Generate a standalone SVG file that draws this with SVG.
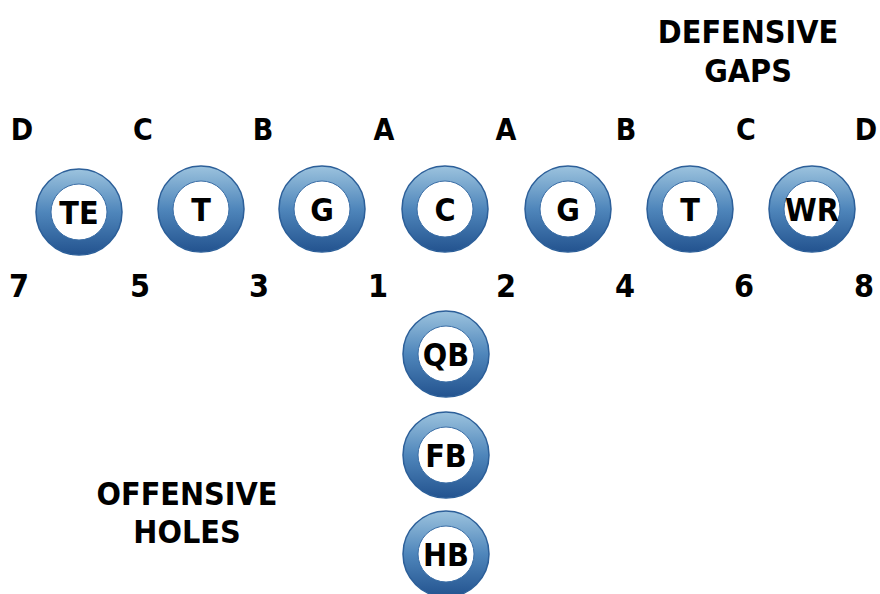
<svg xmlns="http://www.w3.org/2000/svg" width="880" height="594" viewBox="0 0 880 594">
<defs>
<linearGradient id="ring" x1="0" y1="0" x2="0" y2="1">
<stop offset="0" stop-color="#9cc3de"/>
<stop offset="0.5" stop-color="#4f86bb"/>
<stop offset="1" stop-color="#23538f"/>
</linearGradient>
<style>
text{font-family:"DejaVu Sans Condensed","Liberation Sans Narrow","Liberation Sans",sans-serif;font-weight:bold;fill:#000;text-anchor:middle}
.outer{fill:url(#ring);stroke:#2c5f99;stroke-width:1.5}
.inner{fill:#fff;stroke:#3b6ea6;stroke-width:1}
.pos{font-size:32px}
.gap{font-size:30px}
.hole{font-size:32px}
.title{font-size:32px}
</style>
</defs>
<rect width="880" height="594" fill="#fff"/>
<g id="title-defensive"><text class="title" x="748" y="43">DEFENSIVE</text><text class="title" x="748" y="82">GAPS</text></g>
<g id="title-offensive"><text class="title" x="187" y="505">OFFENSIVE</text><text class="title" x="187" y="543">HOLES</text></g>
<g id="gaps">
<text class="gap" x="22" y="140">D</text>
<text class="gap" x="143" y="140">C</text>
<text class="gap" x="263" y="140">B</text>
<text class="gap" x="384" y="140">A</text>
<text class="gap" x="506" y="140">A</text>
<text class="gap" x="626" y="140">B</text>
<text class="gap" x="746" y="140">C</text>
<text class="gap" x="866" y="140">D</text>
</g>
<g id="holes">
<text class="hole" x="19" y="297">7</text>
<text class="hole" x="140" y="297">5</text>
<text class="hole" x="259" y="297">3</text>
<text class="hole" x="378" y="297">1</text>
<text class="hole" x="506" y="297">2</text>
<text class="hole" x="625" y="297">4</text>
<text class="hole" x="744" y="297">6</text>
<text class="hole" x="864" y="297">8</text>
</g>
<g id="node-TE"><circle class="outer" cx="79" cy="212" r="43"/><circle class="inner" cx="79" cy="212" r="28"/><text class="pos" x="79" y="224">TE</text></g>
<g id="node-T1"><circle class="outer" cx="201" cy="209" r="43"/><circle class="inner" cx="201" cy="209" r="28"/><text class="pos" x="201" y="221">T</text></g>
<g id="node-G1"><circle class="outer" cx="322" cy="209" r="43"/><circle class="inner" cx="322" cy="209" r="28"/><text class="pos" x="322" y="221">G</text></g>
<g id="node-C"><circle class="outer" cx="445" cy="209" r="43"/><circle class="inner" cx="445" cy="209" r="28"/><text class="pos" x="445" y="221">C</text></g>
<g id="node-G2"><circle class="outer" cx="568" cy="209" r="43"/><circle class="inner" cx="568" cy="209" r="28"/><text class="pos" x="568" y="221">G</text></g>
<g id="node-T2"><circle class="outer" cx="690" cy="209" r="43"/><circle class="inner" cx="690" cy="209" r="28"/><text class="pos" x="690" y="221">T</text></g>
<g id="node-WR"><circle class="outer" cx="812" cy="209" r="43"/><circle class="inner" cx="812" cy="209" r="28"/><text class="pos" x="812" y="221">WR</text></g>
<g id="node-QB"><circle class="outer" cx="446" cy="354" r="43"/><circle class="inner" cx="446" cy="354" r="28"/><text class="pos" x="446" y="366">QB</text></g>
<g id="node-FB"><circle class="outer" cx="446" cy="455" r="43"/><circle class="inner" cx="446" cy="455" r="28"/><text class="pos" x="446" y="467">FB</text></g>
<g id="node-HB"><circle class="outer" cx="446" cy="554" r="43"/><circle class="inner" cx="446" cy="554" r="28"/><text class="pos" x="446" y="566">HB</text></g>
<g id="connectors"/>
</svg>
